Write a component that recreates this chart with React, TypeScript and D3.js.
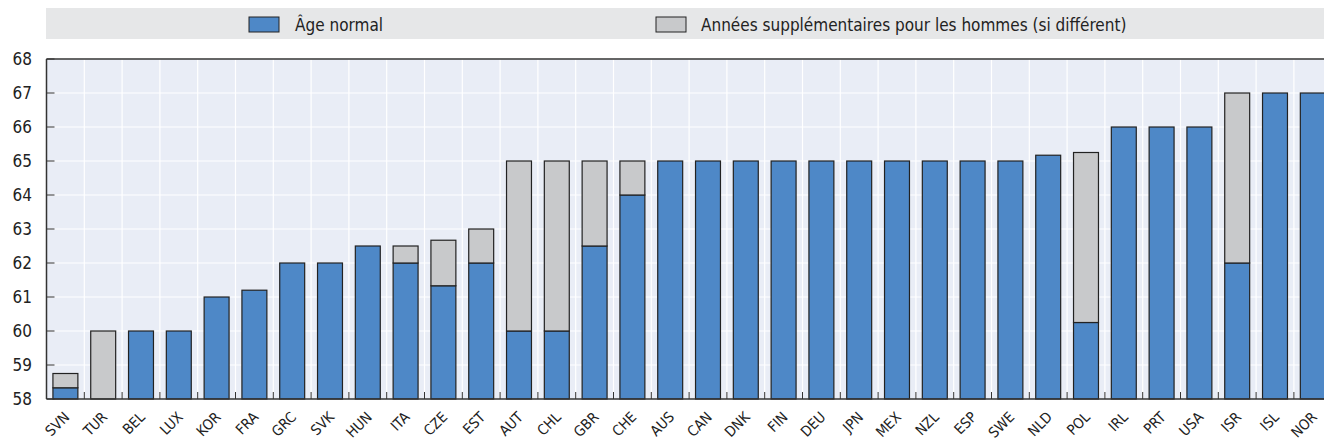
import React from "react";
import * as d3 from "d3";

const countries = ["SVN","TUR","BEL","LUX","KOR","FRA","GRC","SVK","HUN","ITA","CZE","EST","AUT","CHL","GBR","CHE","AUS","CAN","DNK","FIN","DEU","JPN","MEX","NZL","ESP","SWE","NLD","POL","IRL","PRT","USA","ISR","ISL","NOR"];
const normalAge = [58.33,58,60,60,61,61.2,62,62,62.5,62,61.33,62,60,60,62.5,64,65,65,65,65,65,65,65,65,65,65,65.17,60.25,66,66,66,62,67,67];
const extraMen = [0.42,2,0,0,0,0,0,0,0,0.5,1.34,1,5,5,2.5,1,0,0,0,0,0,0,0,0,0,0,0,5,0,0,0,5,0,0];
const yTicks = [58,59,60,61,62,63,64,65,66,67,68];
const legendLabels = ["Âge normal", "Années supplémentaires pour les hommes (si différent)"];

const W = 1324, H = 446;
const left = 46.5, top = 59, bottom = 399;
const bandW = 37.8;
const FONT = "'DejaVu Sans Condensed', 'DejaVu Sans', sans-serif";
const BLUE = "#4e88c7";
const GREY = "#c8c9cb";
const BG = "#e9edf6";
const R = Math.SQRT1_2;

export default function App() {
  const x = d3.scaleBand<string>().domain(countries).range([left, left + bandW * countries.length]).paddingInner(0.34).paddingOuter(0.17);
  const y = d3.scaleLinear().domain([58, 68]).range([bottom, top]);
  const bounds = countries.map((_, i) => left + i * bandW);
  return (
    <svg width={W} height={H} style={{ position: "absolute", left: 0, top: 0 }} fontFamily={FONT}>
      <rect x={46} y={8} width={W - 46} height={31} fill="#e6e7e8" />
      <rect x={249} y={17} width={30} height={15} fill={BLUE} stroke="#222" strokeWidth={1} />
      <text x={295} y={31} fontSize={17} fill="#222">{legendLabels[0]}</text>
      <rect x={656} y={17} width={30} height={15} fill={GREY} stroke="#222" strokeWidth={1} />
      <text x={701} y={31} fontSize={17} fill="#222">{legendLabels[1]}</text>

      <rect x={left} y={top} width={W - left} height={bottom - top} fill={BG} />
      {yTicks.map(t => (
        <line key={"g" + t} x1={left} x2={W} y1={y(t)} y2={y(t)} stroke="#fff" strokeWidth={1.2} />
      ))}
      {bounds.slice(1).map((b, i) => (
        <line key={"v" + i} x1={b} x2={b} y1={top} y2={bottom} stroke="#fff" strokeWidth={1.2} />
      ))}
      {countries.map((c, i) => {
        const bx = x(c)!;
        const bw = x.bandwidth();
        const n = normalAge[i];
        const e = extraMen[i];
        return (
          <g key={c}>
            {n > 58 && (
              <rect x={bx} y={y(n)} width={bw} height={y(58) - y(n)} fill={BLUE} stroke="#222" strokeWidth={1.2} />
            )}
            {e > 0 && (
              <rect x={bx} y={y(n + e)} width={bw} height={y(n) - y(n + e)} fill={GREY} stroke="#222" strokeWidth={1.2} />
            )}
          </g>
        );
      })}
      {bounds.slice(1).map((b, i) => (
        <line key={"t" + i} x1={b} x2={b} y1={bottom} y2={bottom - 7} stroke="#333" strokeWidth={1} />
      ))}
      {yTicks.map(t => (
        <g key={"yt" + t}>
          <line x1={left} x2={left + 8} y1={y(t)} y2={y(t)} stroke="#333" strokeWidth={1} />
          <text x={32} y={y(t) + 6} textAnchor="end" fontSize={17} fill="#222">{t}</text>
        </g>
      ))}
      <line x1={left} x2={W} y1={top} y2={top} stroke="#333" strokeWidth={1.5} />
      <line x1={left} x2={W} y1={bottom} y2={bottom} stroke="#333" strokeWidth={1.5} />
      <line x1={left} x2={left} y1={top} y2={bottom} stroke="#333" strokeWidth={1.5} />
      {countries.map(c => {
        const cx = x(c)! + x.bandwidth() / 2 + 5;
        const cy = 418;
        return (
          <g key={"l" + c} transform={`matrix(${R},${-R},${R},${R},${cx},${cy})`}>
            <text x={0} y={0} textAnchor="end" fontSize={14.5} fill="#222">{c}</text>
          </g>
        );
      })}
    </svg>
  );
}
